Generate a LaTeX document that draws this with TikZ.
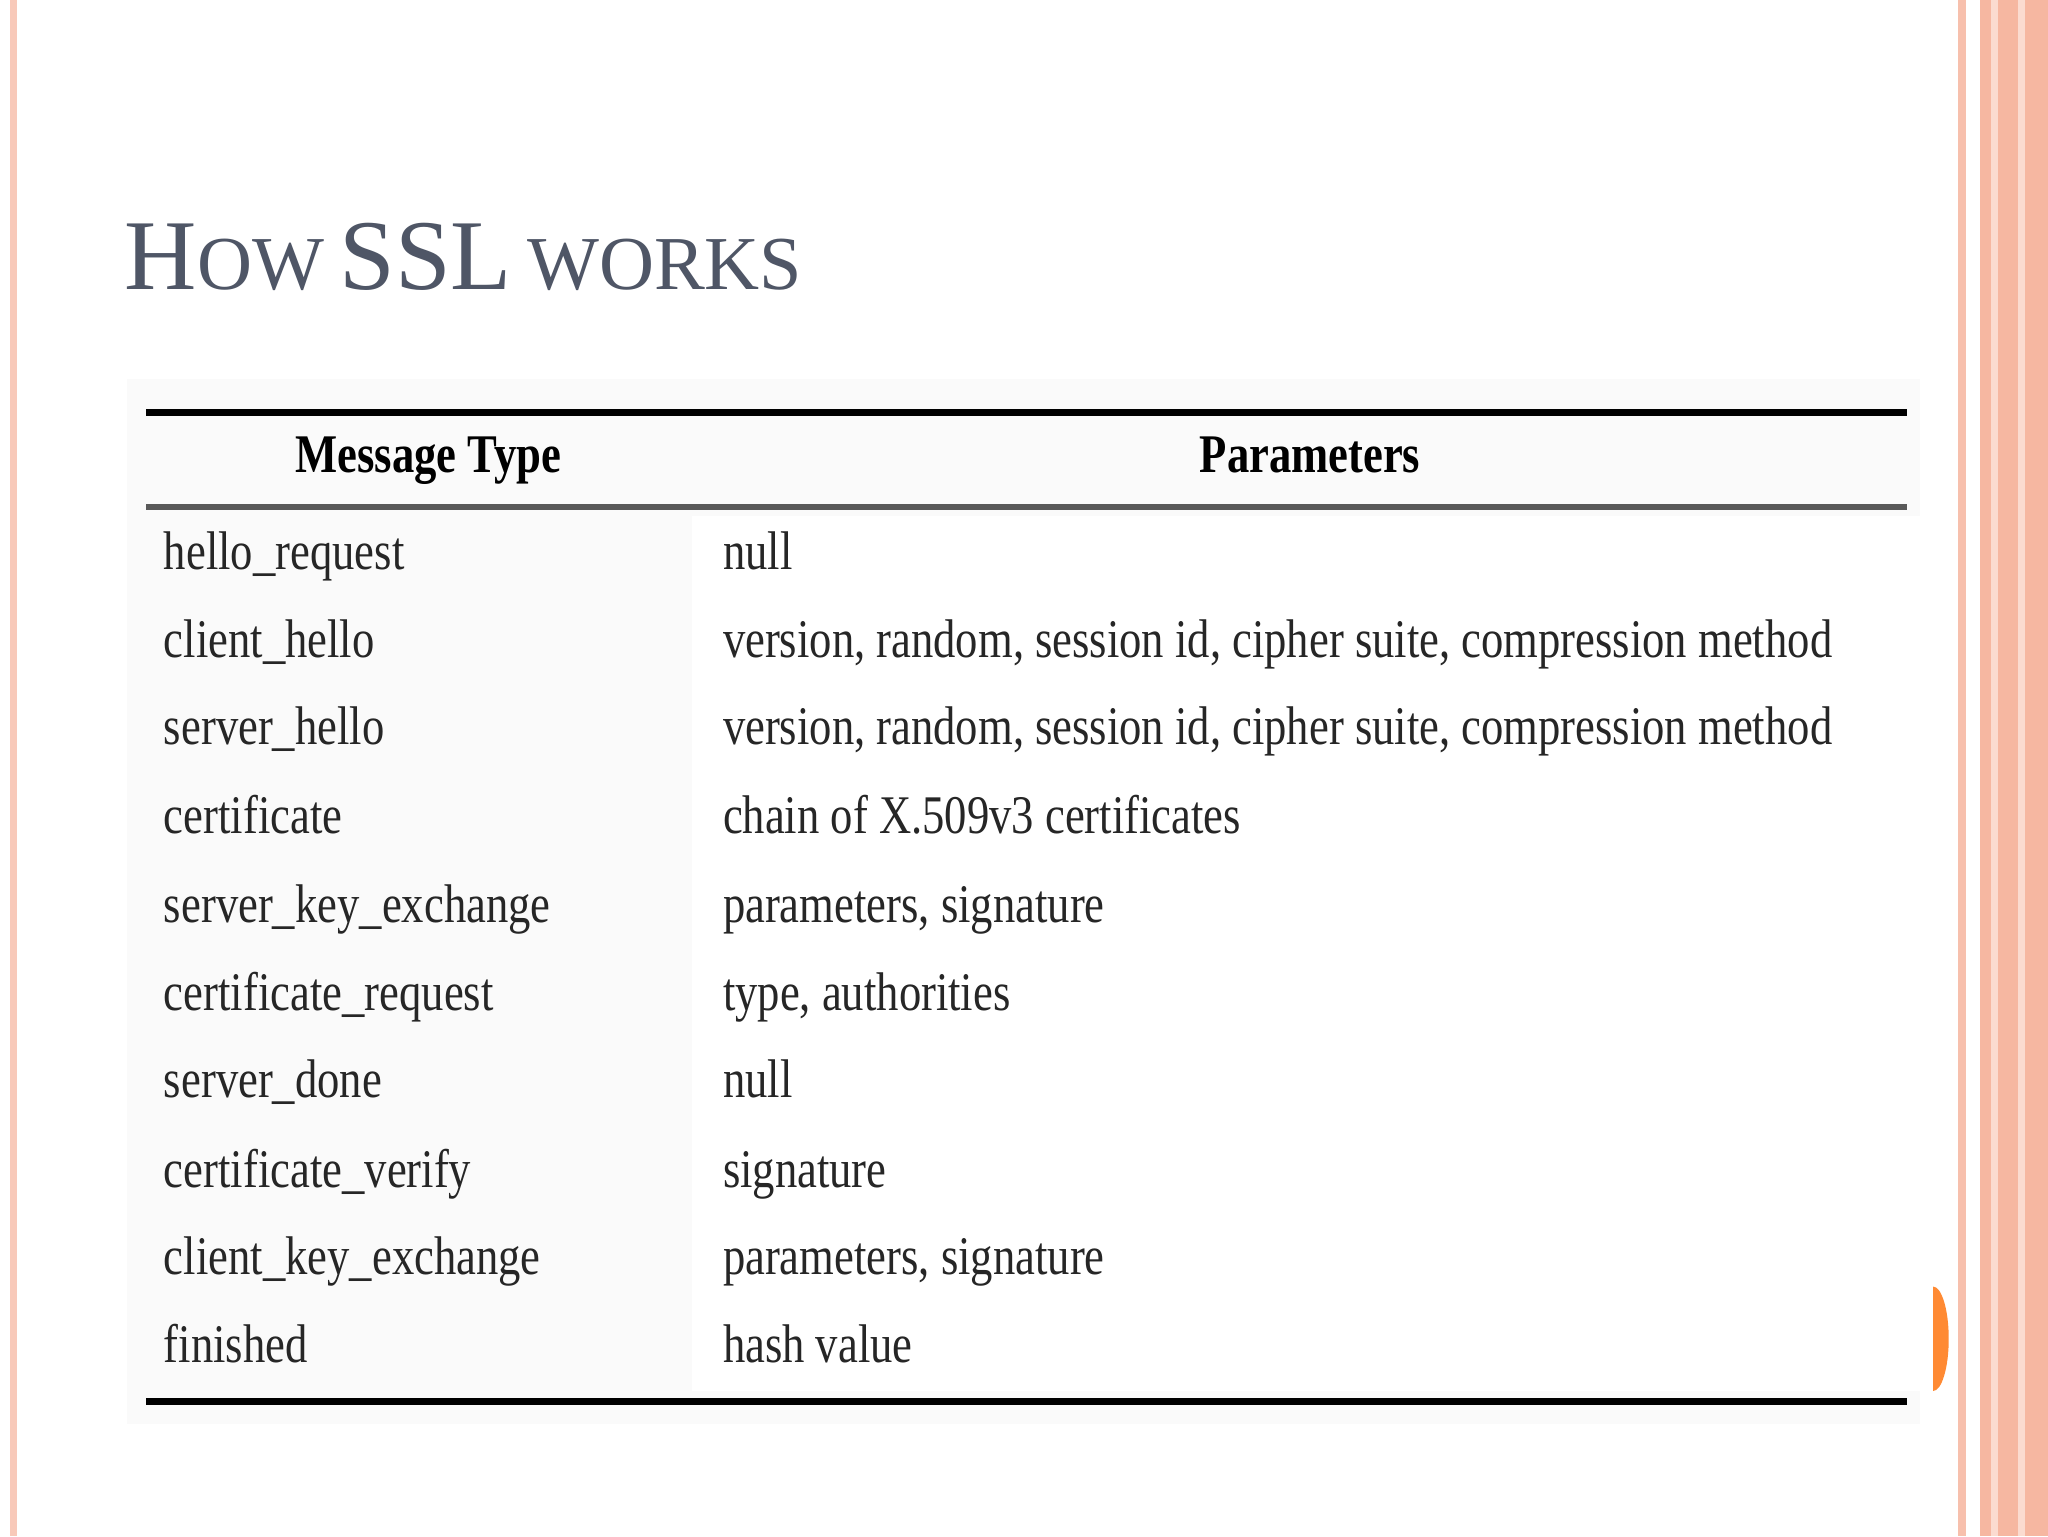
\documentclass[tikz,border=0pt]{standalone}
\usepackage{fontspec}
\setmainfont{Liberation Serif}
\definecolor{salmon}{HTML}{F4A58A}
\definecolor{titlec}{HTML}{4F5666}
\begin{document}
\begin{tikzpicture}[x=0.3pt,y=-0.3pt,
  cell/.style={anchor=base west,inner sep=0,font=\fontsize{12.5}{14}\selectfont,text=black!85,xscale=0.82},
  head/.style={anchor=base,inner sep=0,font=\bfseries\fontsize{12.5}{14}\selectfont,xscale=0.82}]
\useasboundingbox (0,0) rectangle (1568,1176);
\fill[white] (0,0) rectangle (1568,1176);
% borders
\fill[salmon!60] (8,0) rectangle (13,1176);
\fill[salmon!70] (1499,0) rectangle (1505,1176);
\fill[salmon!80] (1516,0) rectangle (1568,1176);
\fill[salmon!40] (1524,0) rectangle (1530,1176);
\fill[salmon!40] (1545,0) rectangle (1550,1176);
\fill[orange!85!red!80] (1480,985) arc (-90:90:12 and 40) -- cycle;
% title
\node[anchor=base west,inner sep=0,text=titlec] (title) at (95,222)
 {{\fontsize{23}{26}\selectfont H}{\fontsize{17.5}{20}\selectfont OW}\hspace{1pt} {\fontsize{23}{26}\selectfont SSL}\hspace{1pt} {\fontsize{17.5}{20}\selectfont WORKS}};
% table background
\fill[black!2] (97,290) rectangle (1470,1090);
\fill[white] (530,395) rectangle (1470,1065);
\draw[line width=1.6pt] (112,316) -- (1460,316);
\draw[line width=1.5pt,black!65] (112,388) -- (1460,388);
\draw[line width=1.6pt] (112,1073) -- (1460,1073);
\node[head] (h1) at (328,362) {Message Type};
\node[head] (h2) at (1003,362) {Parameters};
\foreach \y/\a/\b [count=\i] in {
 436/hello\_request/null,
 503/client\_hello/{version, random, session id, cipher suite, compression method},
 570/server\_hello/{version, random, session id, cipher suite, compression method},
 638/certificate/chain of X.509v3 certificates,
 706/server\_key\_exchange/{parameters, signature},
 774/certificate\_request/{type, authorities},
 840/server\_done/null,
 909/certificate\_verify/signature,
 976/client\_key\_exchange/{parameters, signature},
 1043/finished/hash value}{
 \node[cell] (a\i) at (125,\y) {\a};
 \node[cell] (b\i) at (553,\y) {\b};
}
\end{tikzpicture}
\end{document}
